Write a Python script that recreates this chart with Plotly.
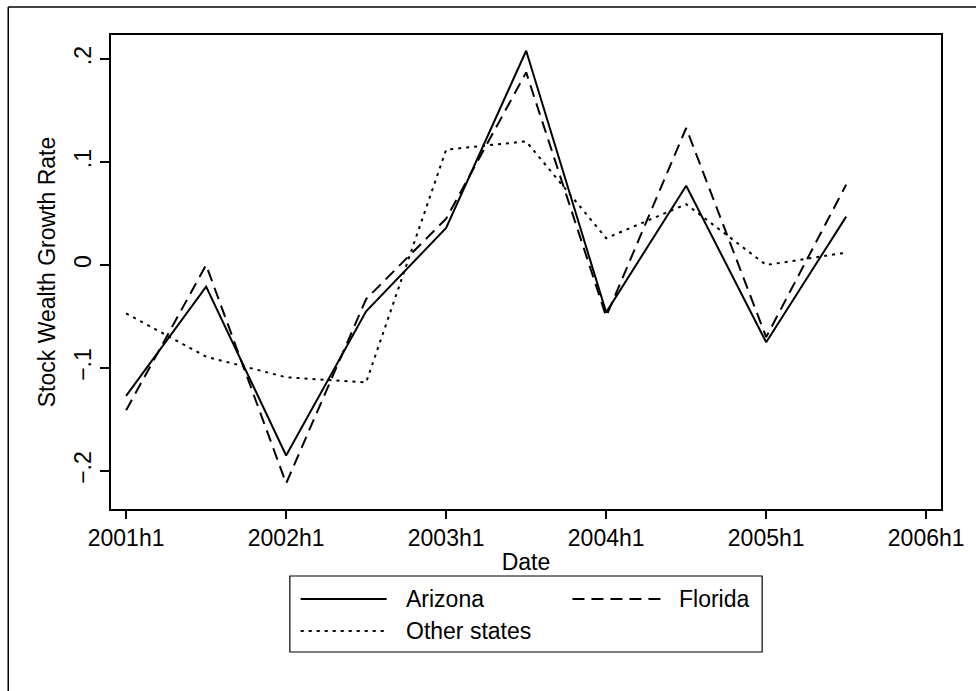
import plotly.graph_objects as go

periods = ["2001h1", "2001h2", "2002h1", "2002h2", "2003h1",
           "2003h2", "2004h1", "2004h2", "2005h1", "2005h2"]
arizona = [-0.127, -0.021, -0.185, -0.045, 0.036, 0.208, -0.046, 0.077, -0.075, 0.047]
florida = [-0.141, 0.000, -0.212, -0.033, 0.045, 0.187, -0.050, 0.133, -0.070, 0.078]
other = [-0.047, -0.089, -0.109, -0.114, 0.112, 0.120, 0.026, 0.059, 0.000, 0.012]

xtick_labels = ["2001h1", "2002h1", "2003h1", "2004h1", "2005h1", "2006h1"]
ytick_vals = [-0.2, -0.1, 0.0, 0.1, 0.2]
ytick_text = ["\u2212.2", "\u2212.1", "0", ".1", ".2"]

W, H = 976, 691
ML, MR, MT, MB = 111, 25, 35, 182
PW, PH = W - ML - MR, H - MT - MB

def px(x):
    return (x - ML) / PW

def py(y):
    return (H - MB - y) / PH

FONT = "Liberation Sans, Arial, sans-serif"
FS = 23

xpos = list(range(len(periods)))
xtick_pos = [2 * i for i in range(len(xtick_labels))]

fig = go.Figure()
styles = [
    ("Arizona", arizona, "solid"),
    ("Florida", florida, "12px,7px"),
    ("Other states", other, "3px,5px"),
]
for name, vals, dash in styles:
    fig.add_trace(go.Scatter(x=xpos, y=vals, mode="lines", name=name,
                             line=dict(color="black", width=2, dash=dash),
                             showlegend=False))

shapes = []
annotations = []
# outer graph border (left and top visible)
shapes.append(dict(type="line", xref="paper", yref="paper",
                   x0=px(7), x1=px(7), y0=py(7), y1=py(700),
                   line=dict(color="black", width=1.5)))
shapes.append(dict(type="line", xref="paper", yref="paper",
                   x0=px(7), x1=px(990), y0=py(7), y1=py(7),
                   line=dict(color="black", width=1.5)))
# legend box
shapes.append(dict(type="rect", xref="paper", yref="paper",
                   x0=px(292), x1=px(770), y0=py(576), y1=py(652),
                   line=dict(color="black", width=1.2), fillcolor="white"))
leg = [
    ("Arizona", "solid", 303, 390, 599, 408),
    ("Florida", "12px,7px", 578, 668, 599, 684),
    ("Other states", "3px,5px", 303, 390, 631, 408),
]
for name, dash, x0, x1, y, tx in leg:
    shapes.append(dict(type="line", xref="paper", yref="paper",
                       x0=px(x0), x1=px(x1), y0=py(y), y1=py(y),
                       line=dict(color="black", width=2, dash=dash)))
    annotations.append(dict(xref="paper", yref="paper", x=px(tx), y=py(y),
                            text=name, showarrow=False, xanchor="left",
                            yanchor="middle",
                            font=dict(family=FONT, size=FS, color="black")))

fig.update_layout(
    width=W, height=H,
    margin=dict(l=ML, r=MR, t=MT, b=MB, pad=0),
    paper_bgcolor="white", plot_bgcolor="white",
    font=dict(family=FONT, size=FS, color="black"),
    showlegend=False,
    shapes=shapes, annotations=annotations,
    xaxis=dict(range=[-0.189, 10.185], tickvals=xtick_pos, ticktext=xtick_labels,
               showgrid=False, zeroline=False, showline=True, mirror=True,
               linecolor="black", linewidth=1.5, ticks="outside", ticklen=8,
               tickwidth=1.5, tickcolor="black",
               title=dict(text="Date", standoff=4, font=dict(size=FS))),
    yaxis=dict(range=[-0.2369, 0.2233], tickvals=ytick_vals, ticktext=ytick_text,
               tickangle=-90, showgrid=False, zeroline=False, showline=True,
               mirror=True, linecolor="black", linewidth=1.5, ticks="outside",
               ticklen=9, tickwidth=1.5, tickcolor="black",
               title=dict(text="Stock Wealth Growth Rate", standoff=8,
                          font=dict(size=FS))),
)

fig.write_html("out.html")
